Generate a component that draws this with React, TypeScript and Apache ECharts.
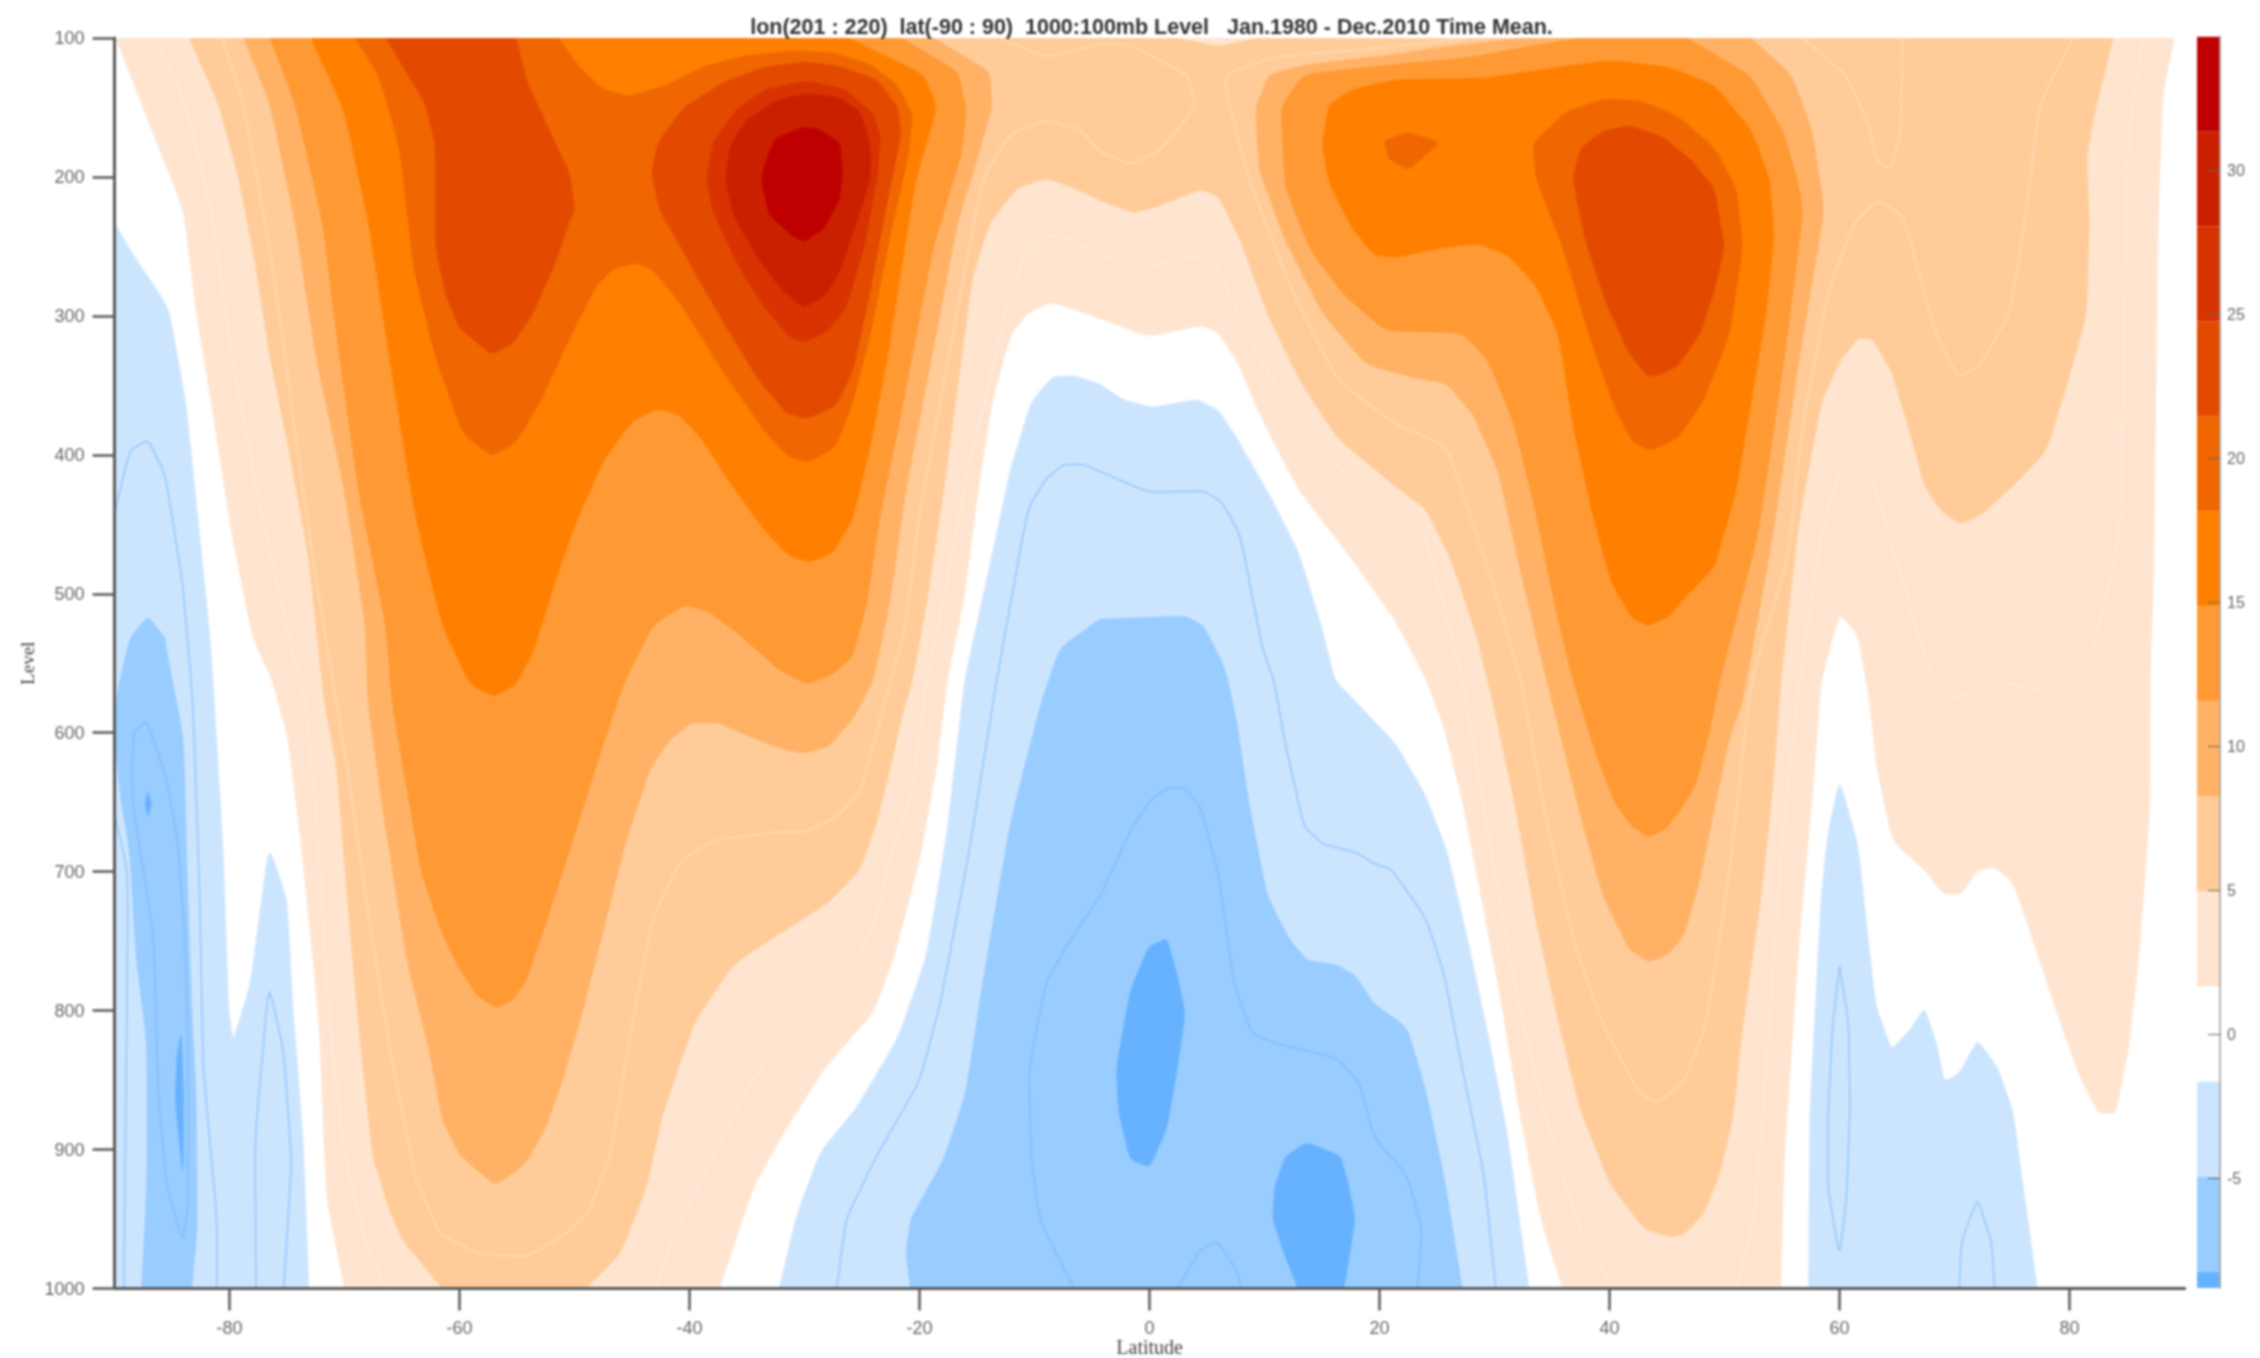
import React, { useEffect, useRef } from "react";
import * as echarts from "echarts";

type Pt = number[];
const titleText = "lon(201 : 220)  lat(-90 : 90)  1000:100mb Level   Jan.1980 - Dec.2010 Time Mean.";
const latitudeTicks = [-80, -60, -40, -20, 0, 20, 40, 60, 80];
const colorbarTicks = [-5, 0, 5, 10, 15, 20, 25, 30];
const bandEdges = [-8.82, -8.25, -4.95, -1.65, 1.65, 4.95, 8.25, 11.55, 14.85, 18.15, 21.45, 24.75, 28.05, 31.35, 34.65];
const bandColors = ["#66b2ff", "#99ccff", "#cce5ff", "#ffffff", "#ffe5d0", "#ffcc99", "#ffb266", "#ff9933", "#ff7f00", "#f06600", "#e34a00", "#d83300", "#cb2000", "#bf0000"];

const warm2: Pt[] = [[-89.9,100],[-87.1,159],[-84,224],[-82.9,298],[-81.6,362],[-79.8,458],[-78,532],[-76.3,562],[-74.9,605],[-73.7,686],[-72.2,810],[-71.6,935],[-70,1000],[-37.4,1000],[-34.4,926],[-31.6,885],[-28.3,842],[-24,801],[-22.2,761],[-20,692],[-18.5,624],[-17.6,562],[-16.2,507],[-14.9,426],[-13.7,362],[-12.1,314],[-10.6,298],[-8.5,290],[-4.3,302],[-0.1,315],[4.4,307],[6,312],[7.6,333],[9.8,375],[13,426],[17.6,475],[21.4,520],[24,561],[25.6,596],[27.2,649],[28.8,717],[30.4,786],[32,866],[34,950],[35.9,1000],[54.9,1000],[55.2,904],[56.5,748],[57.7,639],[58.4,562],[60,514],[61.6,530],[62.6,577],[63.2,624],[64.6,678],[67.4,699],[69,716],[70.6,716],[72,699],[73.5,697],[75.1,708],[77,754],[79,804],[80.9,848],[82.5,874],[84,874],[85.1,829],[86,764],[87,655],[87,562],[87.3,491],[87.5,362],[87.7,233],[88.1,140],[89.1,100]];
const warm5: Pt[] = [[-83.5,100],[-81,147],[-79.2,201],[-77.7,266],[-76.5,330],[-74.9,394],[-73.1,475],[-71.8,577],[-70.7,624],[-69.8,717],[-68.8,810],[-67.6,904],[-66.1,944],[-64.9,966],[-61.5,1000],[-49,1000],[-46,975],[-43.8,929],[-42.3,873],[-39.5,807],[-36.2,767],[-32.8,748],[-28,723],[-25.2,699],[-23.7,664],[-22.5,624],[-21.5,587],[-20.6,562],[-19.4,507],[-17.9,426],[-16.6,346],[-15.4,272],[-13.9,233],[-11.5,208],[-9,201],[-6.6,208],[-4.3,217],[-1.4,226],[0.8,221],[4.4,209],[6,214],[7.9,246],[10.2,298],[13,346],[16.3,388],[21.4,423],[24,439],[26.2,475],[28.5,532],[29.8,577],[31.7,649],[33.6,736],[35.6,810],[37.5,873],[40.1,926],[43,957],[45.2,963],[46.5,961],[48.1,947],[49.4,922],[50.7,879],[51.6,810],[53.2,717],[54.2,640],[54.9,562],[56.5,446],[58.4,362],[60,333],[61.6,316],[62.9,317],[64.5,340],[65.8,375],[67.4,423],[69,442],[70.6,450],[72.5,442],[75.4,420],[78,397],[79.9,346],[81.5,298],[81.7,233],[81.5,185],[82.2,153],[83.8,100],[9.5,100],[6,106],[2.4,100]];
const west8: Pt[] = [[-78.8,100],[-76.5,147],[-74.3,233],[-72.5,330],[-70,426],[-68.2,523],[-68,577],[-66.7,655],[-64.6,764],[-62.7,826],[-61.5,879],[-60,904],[-56.9,926],[-54.2,910],[-52.4,882],[-51.1,851],[-49.3,801],[-47.5,742],[-45.6,680],[-43.5,627],[-41.7,605],[-39.8,593],[-37.4,593],[-35.3,601],[-32.2,611],[-30.1,615],[-27.9,610],[-25.8,590],[-24,562],[-22.6,507],[-21.2,426],[-19.7,362],[-18.2,298],[-16.7,233],[-14.8,182],[-13.7,150],[-13.9,124],[-18.8,100]];
const west11: Pt[] = [[-76.5,100],[-74.3,147],[-71.9,233],[-70.7,314],[-68.8,426],[-66.4,523],[-65.9,577],[-64.6,640],[-63.3,702],[-61.5,745],[-60,770],[-58.5,789],[-56.9,798],[-55.4,793],[-54.2,778],[-52.7,742],[-51.1,702],[-49.3,655],[-47.5,608],[-45.6,562],[-43.2,523],[-40.5,508],[-38.3,513],[-35.3,532],[-32.2,555],[-29.8,565],[-27.6,558],[-25.8,545],[-24.6,507],[-23.4,442],[-21.8,378],[-20.3,314],[-18.8,250],[-16.4,185],[-15.9,151],[-16.7,124],[-21.6,100]];
const west15: Pt[] = [[-72.9,100],[-70,153],[-67.9,233],[-66.1,330],[-63.9,442],[-61.5,523],[-59.1,565],[-57,574],[-55.1,565],[-53.6,542],[-51.7,491],[-49.9,449],[-47.5,404],[-45,376],[-42.9,367],[-41.1,370],[-38.9,389],[-36.5,420],[-33.4,455],[-31.3,473],[-29.5,477],[-27.6,471],[-25.8,446],[-24.3,394],[-22.8,330],[-21.6,266],[-20.3,201],[-18.5,150],[-19.7,126],[-26.2,100]];
const west18: Pt[] = [[-69.1,100],[-67,127],[-65.2,179],[-64,266],[-62.1,330],[-59.7,385],[-57.2,401],[-55.1,391],[-53,362],[-50.5,317],[-48.1,278],[-46.6,266],[-44.7,262],[-43.2,267],[-40.8,291],[-37.1,340],[-33.4,384],[-31.3,402],[-29.5,405],[-27.3,394],[-25.8,362],[-24.3,314],[-22.5,240],[-21,185],[-20.6,156],[-21.9,134],[-24.3,119],[-27.3,111],[-31,109],[-35.3,113],[-38.9,121],[-42,134],[-45.3,142],[-47.5,137],[-49.6,121],[-51.4,100]];
const west21a: Pt[] = [[-66.4,100],[-64.9,121],[-63,147],[-62.1,176],[-62.1,250],[-61.2,285],[-60,309],[-57.2,328],[-55.4,320],[-53.6,298],[-51.7,262],[-50.5,233],[-50,224],[-50.4,198],[-52.4,163],[-54.2,130],[-55.1,100]];
const west21b: Pt[] = [[-42.8,176],[-43.3,198],[-42.6,224],[-40.2,259],[-37.1,304],[-34,346],[-31.6,370],[-29.8,374],[-27.3,365],[-25.8,340],[-24.3,282],[-22.8,217],[-21.6,169],[-21.9,150],[-23.7,130],[-26.7,121],[-29.8,117],[-33.5,121],[-37.1,132],[-40.5,150]];
const west25: Pt[] = [[-38.5,201],[-38,224],[-35.9,262],[-33.5,294],[-31.3,315],[-30,319],[-28,311],[-26.4,294],[-24.9,253],[-23.7,201],[-23.4,172],[-24,155],[-26.5,137],[-29.8,131],[-33.4,137],[-35.9,151],[-38,176]];
const west28: Pt[] = [[-36.9,201],[-36.2,227],[-34,259],[-31.9,282],[-30.1,294],[-28.3,286],[-27,269],[-25.5,233],[-24.3,201],[-24.3,176],[-25.2,153],[-27,143],[-29.8,140],[-32.5,145],[-35,159],[-36.4,176]];
const west31: Pt[] = [[-33.8,201],[-33.1,227],[-31.3,241],[-30.1,247],[-28.3,237],[-27,217],[-26.7,198],[-26.9,176],[-28.6,166],[-30.1,164],[-32.5,172],[-33.1,182]];
const east8: Pt[] = [[10.4,126],[13.7,119],[20.1,113],[25.9,106],[32.3,100],[52.3,100],[55.8,126],[57.6,166],[58.7,224],[56.5,330],[54.2,458],[51.6,577],[50.4,605],[49.1,655],[47.8,708],[46.5,745],[45.2,759],[43.4,765],[41.7,756],[39.4,717],[37.5,661],[35.9,608],[34.5,562],[32,475],[30.4,414],[28.2,372],[25.9,349],[22.7,344],[18.8,335],[15,298],[11.8,246],[9.5,195],[9.2,150]];
const east11: Pt[] = [[11.4,150],[13.4,126],[21.4,119],[27.8,114],[33.6,105],[37.5,100],[46.7,100],[52.3,127],[55.2,169],[56.5,208],[56.8,227],[55.2,330],[52.9,458],[49.6,562],[48.7,599],[47.5,637],[46.2,655],[44.9,669],[43.4,675],[42,668],[40.4,650],[38.8,615],[36.8,562],[35.2,507],[33.6,442],[31.7,378],[29.5,333],[27.2,312],[20.5,311],[16.9,285],[14,253],[11.8,208]];
const east15: Pt[] = [[15,176],[15.6,148],[17.6,137],[21.4,130],[29.1,129],[35.6,121],[40.1,116],[45.2,121],[49.1,134],[52.3,166],[53.9,201],[54.3,243],[53.6,298],[52.3,362],[51,426],[49.1,481],[46.5,503],[45.2,516],[43.4,523],[42,518],[40.1,491],[38.5,442],[36.8,378],[35.6,314],[33.6,278],[31.1,256],[28.5,248],[25.3,251],[21.4,258],[19.5,256],[17.6,237],[15.6,204]];
const east18a: Pt[] = [[20.4,174],[22.4,168],[25.3,175],[22.5,195],[20.8,187]];
const east18b: Pt[] = [[33.3,176],[36.2,153],[39.4,144],[42.6,145],[45.9,156],[49.1,179],[51,208],[51.6,250],[50.4,314],[48.1,362],[45.9,388],[43.6,397],[42,391],[40.4,365],[38.1,311],[35.9,250],[33.6,201]];
const east21: Pt[] = [[37.5,179],[39.4,167],[41.7,163],[44.6,171],[47.1,188],[49.1,208],[50,250],[49.1,282],[47.8,314],[45.9,336],[44.2,343],[43.3,343],[41.7,327],[39.7,291],[37.8,243],[36.8,201]];

const coolWest2: Pt[] = [[-90,233],[-88.4,256],[-85.3,294],[-83.8,362],[-82.6,458],[-81.6,540],[-80.55,685],[-80.1,797],[-79.7,822],[-78.2,781],[-76.6,681],[-75,720],[-74.5,797],[-73.6,893],[-73.1,1000],[-90,1000]];
const coolWest5: Pt[] = [[-87.1,516],[-85.6,532],[-85.5,540],[-84,604],[-83.7,700],[-83.3,797],[-82.9,861],[-82.8,957],[-83.3,1000],[-87.65,1000],[-87.2,925],[-87.2,822],[-88.1,765],[-88.7,685],[-89.5,646],[-90,604],[-89.8,572],[-88.7,532]];
const coolWest8a: Pt[] = [[-87.1,642],[-86.8,651],[-87.1,661],[-87.35,651]];
const coolWest8b: Pt[] = [[-84.2,816],[-84,861],[-84.05,920],[-84.75,864],[-84.55,830]];
const coolMid2: Pt[] = [[-32.2,1000],[-30.7,947],[-28.6,901],[-25.5,870],[-21.9,820],[-19.4,761],[-17.6,671],[-16.1,562],[-14.2,491],[-12.1,410],[-10.3,362],[-8.5,344],[-6.6,343],[-4.3,349],[-2.4,360],[0.2,366],[4.1,360],[6,368],[7.6,388],[10.5,430],[13,471],[15,525],[16.1,562],[18.2,580],[21.4,608],[24,645],[25.9,686],[27.8,754],[29.5,820],[31.1,888],[33,1000]];
const coolMid5: Pt[] = [[-20.8,1000],[-21.2,975],[-20.8,950],[-17.9,907],[-16,860],[-14.5,779],[-12.1,664],[-9.4,577],[-7.8,539],[-4.3,518],[-3.3,518],[3.1,516],[4.7,523],[6.3,549],[6.8,562],[7.6,593],[8.6,649],[10.2,717],[12.1,748],[13.7,764],[16.3,767],[17.9,775],[19.5,795],[22.4,812],[24,857],[25.6,919],[27.2,1000]];
const coolMid8a: Pt[] = [[1.5,748],[-0.1,754],[-1.7,786],[-2.9,842],[-2.7,873],[-1.7,907],[0,913],[1.5,885],[2.4,842],[3.1,802],[2.4,774]];
const coolMid8b: Pt[] = [[13.6,895],[11.8,905],[10.9,926],[10.7,950],[11.7,975],[12.9,1000],[16.9,1000],[17.9,950],[17.2,922],[16.6,905],[15,899]];
const coolEast2: Pt[] = [[57.3,1000],[57.4,873],[58.4,717],[59,671],[60,634],[61.6,680],[63.1,795],[64.5,828],[66.1,814],[67.4,798],[68.4,823],[69.1,851],[70.4,845],[72,821],[73.8,842],[75.1,873],[76.1,935],[77.2,1000]];

const lineWestA: Pt[] = [[-90,442],[-88.7,397],[-87.1,389],[-85.6,414],[-84.1,491],[-83.2,577],[-82.6,717],[-82.3,842],[-81.1,950],[-81.1,1000]];
const lineWestB: Pt[] = [[-90,659],[-88.8,701],[-89.2,1000]];
const lineWestC: Pt[] = [[-88.3,600],[-87.2,591],[-85.5,633],[-84.5,678],[-83.9,745],[-83.6,829],[-83.6,941],[-84.1,966],[-85.5,925],[-86.2,861],[-86.6,745],[-88.4,653],[-88.5,624],[-88.3,600]];
const lineWestD: Pt[] = [[-77.7,1000],[-77.8,893],[-76.6,781],[-75.3,829],[-74.6,909],[-75.3,1000]];
const lineMidA: Pt[] = [[-27.2,1000],[-26.4,950],[-23.7,904],[-20,851],[-18.2,795],[-15.7,686],[-13.3,562],[-10.6,439],[-9,417],[-7.5,407],[-5.7,407],[-4.3,412],[-0.1,427],[4.7,426],[6.3,434],[7.9,458],[9.8,539],[10.8,562],[11.8,608],[13.4,667],[15,680],[17.9,686],[19.5,694],[21.1,699],[24,733],[25.6,773],[27.2,842],[29.1,919],[30.1,1000]];
const lineMidB: Pt[] = [[-6.6,1000],[-9.6,950],[-10.3,904],[-10.5,842],[-9,779],[-6.6,745],[-4.3,718],[-1.7,671],[-0.1,650],[1.5,640],[3.1,640],[4.4,653],[6,702],[7.3,780],[8.9,817],[11.1,824],[16.3,834],[18.2,851],[19.5,891],[22.4,919],[23.7,957],[23.3,1000]];
const lineMidC: Pt[] = [[2.4,1000],[4.4,972],[5.9,966],[7.6,987],[8,1000]];
const lineEastA: Pt[] = [[60,768],[60.8,810],[60.9,873],[60.6,935],[60,977],[59,929],[59,873],[59.4,810],[60,768]];
const lineEastB: Pt[] = [[70.4,1000],[70.6,966],[72,935],[73.2,966],[73.5,1000]];

const lineWarmA: Pt[] = [[-86.5,100],[-83.8,147],[-81.6,224],[-79.8,330],[-77.4,436],[-74.6,539],[-73.4,577],[-72.5,655],[-71.3,810],[-70,904],[-68.2,966],[-66.4,1000]];
const lineWarmB: Pt[] = [[-80.7,100],[-78.9,143],[-76.2,266],[-73.1,458],[-69.8,624],[-67.6,748],[-66.1,826],[-63.9,919],[-61.8,960],[-58.5,975],[-54.2,977],[-51.1,963],[-48.7,944],[-46.9,904],[-45,810],[-43.2,733],[-40.8,692],[-37.7,677],[-32.8,672],[-29.8,671],[-27.3,661],[-25.2,643],[-24,608],[-22.5,562],[-21.2,523],[-20,442],[-18.2,362],[-16.4,282],[-14.5,201],[-12.1,169],[-9,159],[-6,166],[-4.3,182],[-1.7,191],[0.8,182],[4,150],[3.4,127],[-1.7,105],[-4.3,104],[-9,114],[-13,100]];
const lineWarmC: Pt[] = [[-42.9,1000],[-41.4,963],[-38.3,910],[-35.3,860],[-31.6,814],[-28,786],[-25.5,764],[-23.7,733],[-22.5,686],[-20.6,640],[-19.4,562],[-17.6,491],[-15.8,410],[-13.9,346],[-12.1,282],[-10.6,253],[-9,241],[-6.6,246],[-4.3,256],[-0.8,267],[4,256],[5.7,262],[7.3,291],[10.2,340],[12.7,372],[16.9,413],[24,458],[26,523],[27.2,562],[29.1,655],[31.7,780],[34.3,873],[37.5,960],[40.3,1000]];
const lineWarmD: Pt[] = [[51,1000],[52.6,950],[53.9,810],[54.9,686],[56.5,562],[58.4,458],[60,410],[61.3,401],[62.9,420],[65.5,491],[67.7,555],[69.6,576],[73.8,563],[78,571],[81.9,545],[84.4,458],[84.8,298],[85.1,169],[86.4,100]];
const lineWarmE: Pt[] = [[56.8,100],[60.6,127],[62.6,163],[63.2,188],[64.4,195],[65.3,169],[65.5,100]];
const lineWarmF: Pt[] = [[80.3,100],[77.4,147],[76.1,233],[74.8,298],[72.2,336],[70.3,344],[68.4,314],[65.5,227],[63.2,217],[61.3,233],[59,282],[56.8,378],[55.5,475],[52.3,562],[50.4,702],[48.4,810],[46.5,851],[44.2,866],[42.6,860],[39.4,810],[36.8,748],[34.3,655],[32.3,562],[29.8,491],[25.9,394],[21.4,378],[16.3,346],[12.4,282],[8.6,201],[6.3,127],[10.5,114],[21.4,106],[27.8,100]];

// [outline, index into bandColors]; painted from the outermost band inwards.
const fills: [Pt[], number][] = [
  [warm2, 4], [warm5, 5], [west8, 6], [east8, 6], [west11, 7], [east11, 7], [west15, 8], [east15, 8],
  [west18, 9], [east18a, 9], [east18b, 9], [west21a, 10], [west21b, 10], [east21, 10], [west25, 11], [west28, 12], [west31, 13],
  [coolWest2, 2], [coolMid2, 2], [coolEast2, 2], [coolWest5, 1], [coolMid5, 1], [coolWest8a, 0], [coolWest8b, 0], [coolMid8a, 0], [coolMid8b, 0],
];
const blueLines = [lineWestA, lineWestB, lineWestC, lineWestD, lineMidA, lineMidB, lineMidC, lineEastA, lineEastB];
const warmLines = [lineWarmA, lineWarmB, lineWarmC, lineWarmD, lineWarmE, lineWarmF];

// Rounds the corners of a traced outline; vertices on the frame of the plot stay where they are.
const onFrame = (p: Pt) => p[0] === -90 || p[1] === 100 || p[1] === 1000;
function roundCorners(pts: Pt[], closed: boolean, share: number): Pt[] {
  const out: Pt[] = [];
  const n = pts.length;
  pts.forEach((p, i) => {
    if (onFrame(p) || (!closed && (i === 0 || i === n - 1))) { out.push(p); return; }
    const a = pts[(i - 1 + n) % n];
    const b = pts[(i + 1) % n];
    out.push([p[0] + (a[0] - p[0]) * share, p[1] + (a[1] - p[1]) * share]);
    out.push([p[0] + (b[0] - p[0]) * share, p[1] + (b[1] - p[1]) * share]);
  });
  return out;
}
const soften = (pts: Pt[], closed: boolean) => roundCorners(roundCorners(pts, closed, 0.1), closed, 0.18);

export default function App() {
  const ref = useRef<HTMLDivElement>(null);
  useEffect(() => {
    document.body.style.margin = "0";
    const chart = echarts.init(ref.current!, undefined, { renderer: "svg" });
    const toPts = (pts: Pt[], api: any) => pts.map((p) => api.coord(p));
    const shapes = [
      ...fills.map(([pts, c]) => ({ pts: soften(pts, true), fill: bandColors[c], stroke: "" })),
      ...warmLines.map((pts) => ({ pts: soften(pts, false), fill: "", stroke: "rgba(255,244,232,0.4)" })),
      ...blueLines.map((pts) => ({ pts: soften(pts, false), fill: "", stroke: "rgba(110,178,255,0.6)" })),
    ];
    const axisGray = "#5a5a5a";
    const labelBase = { color: "#666", fontFamily: "Liberation Sans", fontSize: 18 };
    const plain = (v: number) => String(v);
    chart.setOption({
      animation: false,
      backgroundColor: "#ffffff",
      title: {
        text: titleText, left: 1146.5, top: 11, textAlign: "center",
        textStyle: { fontFamily: "Liberation Sans", fontWeight: "bold", fontSize: 21.5, color: "#333" },
      },
      grid: [
        { left: 114.6, width: 2070, top: 38, height: 1250.5, outerBoundsMode: "none" },
        { left: 2197, width: 23, top: 36.5, height: 1251.5, outerBoundsMode: "none" },
      ],
      xAxis: [
        {
          gridIndex: 0, type: "value", min: -90, max: 90, position: "bottom", splitLine: { show: false }, z: 8,
          axisLine: { onZero: false, lineStyle: { color: axisGray, width: 3 } },
          axisTick: { customValues: latitudeTicks, length: 22, lineStyle: { color: axisGray, width: 2.5 } },
          axisLabel: { customValues: latitudeTicks, margin: 30, formatter: plain, ...labelBase },
          name: "Latitude", nameLocation: "middle", nameGap: 48, nameMoveOverlap: false,
          nameTextStyle: { fontFamily: "Liberation Serif", fontSize: 20, lineHeight: 20, color: "#444" },
        },
        { gridIndex: 1, type: "value", min: 0, max: 1, show: false },
      ],
      yAxis: [
        {
          gridIndex: 0, type: "value", inverse: true, min: 100, max: 1000, interval: 100, splitLine: { show: false }, z: 8,
          axisLine: { onZero: false, lineStyle: { color: axisGray, width: 3 } },
          axisTick: { length: 22, lineStyle: { color: axisGray, width: 2.5 } },
          axisLabel: { margin: 30, formatter: plain, ...labelBase },
          name: "Level", nameLocation: "middle", nameGap: 78, nameRotate: 90, nameMoveOverlap: false,
          nameTextStyle: { fontFamily: "Liberation Serif", fontSize: 19, color: "#444" },
        },
        {
          gridIndex: 1, type: "value", position: "right", min: -8.82, max: 34.65, splitLine: { show: false }, z: 8,
          axisLine: { onZero: false, lineStyle: { color: "#9a9a9a", width: 1.5 } },
          axisTick: { customValues: colorbarTicks, inside: true, length: 12, lineStyle: { color: "#666", width: 1 } },
          axisLabel: { customValues: colorbarTicks, margin: 7, formatter: plain, ...labelBase, fontSize: 16 },
        },
      ],
      series: [
        {
          type: "custom", xAxisIndex: 0, yAxisIndex: 0, clip: true, silent: true,
          data: shapes.map((_, i) => [i]),
          dimensions: ["shape"], encode: { x: -1, y: -1 },
          renderItem: (_: any, api: any) => {
            const s = shapes[api.value(0)];
            const points = toPts(s.pts, api);
            return s.fill
              ? { type: "polygon", shape: { points }, style: { fill: s.fill, stroke: s.fill, lineWidth: 0.5 } }
              : { type: "polyline", shape: { points }, style: { stroke: s.stroke, fill: "none", lineWidth: 1.5 } };
          },
        },
        {
          type: "custom", xAxisIndex: 1, yAxisIndex: 1, clip: true, silent: true,
          data: bandColors.map((_, i) => [i]),
          dimensions: ["band"], encode: { x: -1, y: -1 },
          renderItem: (_: any, api: any) => {
            const i = api.value(0);
            const a = api.coord([0, bandEdges[i]]);
            const b = api.coord([1, bandEdges[i + 1]]);
            return { type: "rect", shape: { x: a[0], y: b[1], width: b[0] - a[0], height: a[1] - b[1] }, style: { fill: bandColors[i] } };
          },
        },
      ],
    });
    return () => chart.dispose();
  }, []);
  return <div ref={ref} style={{ width: 2260, height: 1358, filter: "blur(1.1px)" }} />;
}
